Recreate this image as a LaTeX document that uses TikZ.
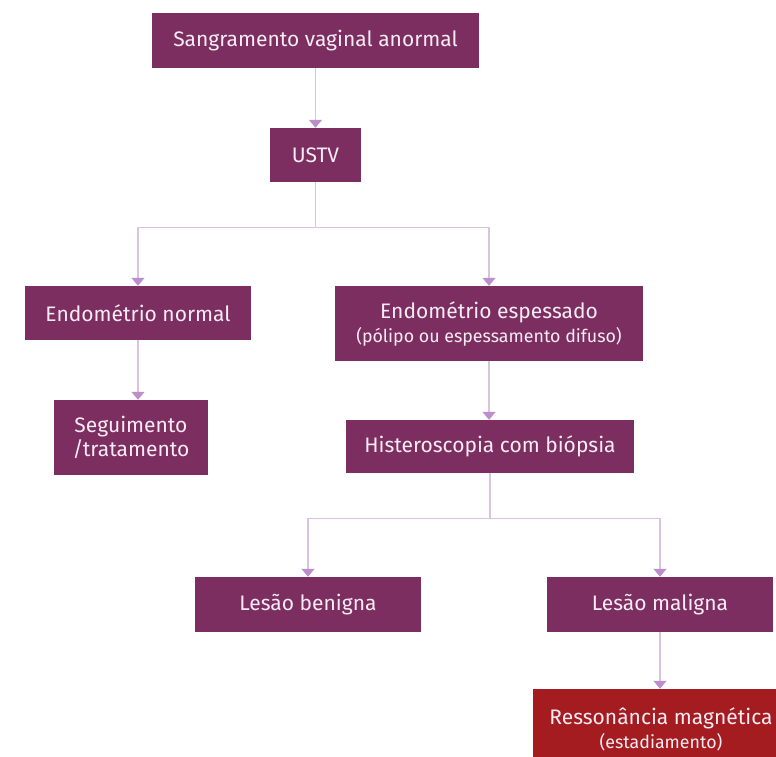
\documentclass[tikz,border=0pt]{standalone}
\usepackage{fontspec}
\setmainfont{Fira Sans}
\usetikzlibrary{arrows.meta}
\definecolor{roxo}{RGB}{125,46,96}
\definecolor{verm}{RGB}{165,28,32}
\definecolor{linha}{RGB}{218,194,224}
\definecolor{ponta}{RGB}{188,142,204}
\definecolor{texto}{RGB}{248,236,244}
\newcommand\menor[1]{{\fontsize{17.8}{22}\selectfont #1}}
\begin{document}
\begin{tikzpicture}[x=1pt,y=-1pt,line join=round,font=\fontsize{21}{24}\selectfont,
	caixa/.style={fill=roxo,text=texto,align=center,inner sep=0pt},
	seta/.style={draw=linha,line width=1.3pt,-{Triangle[width=13pt,length=8pt,color=ponta]}}]
\useasboundingbox[fill=white] (0,0) rectangle (776,756);
\foreach \x/\y/\w/\h/\n/\g in {315.5/40.5/327/55/a/Sangramento vaginal anormal,315.5/155/91/54/b/USTV,138/313/226/54/c/Endométrio normal,489/323.5/308/75/d/{Endométrio espessado\\\menor{(pólipo ou espessamento difuso)}},131/437.5/154/75/e/{Seguimento\\/tratamento},490/446.5/288/53/f/Histeroscopia com biópsia,308/604.5/226/55/g/Lesão benigna,660/604.5/226/55/h/Lesão maligna}
	\path(\x,\y)node[caixa,minimum width=\w pt,minimum height=\h pt](\n){\g};
\path(661,729)node[caixa,fill=verm,minimum width=256pt,minimum height=80pt](i){Ressonância magnética\\\menor{(estadiamento)}};
\foreach \a/\b in {a/b,c/e,d/f,h/i}\draw[seta] (\a.south)--(\a.south|-\b.north);
\foreach \a/\b/\c in {b/c/d,f/g/h}{
	\draw[seta] (\a.south)--++(0,45)-|(\b.north);
	\draw[seta] (\a.south)--++(0,45)-|(\c.north);}
\end{tikzpicture}
\end{document}
